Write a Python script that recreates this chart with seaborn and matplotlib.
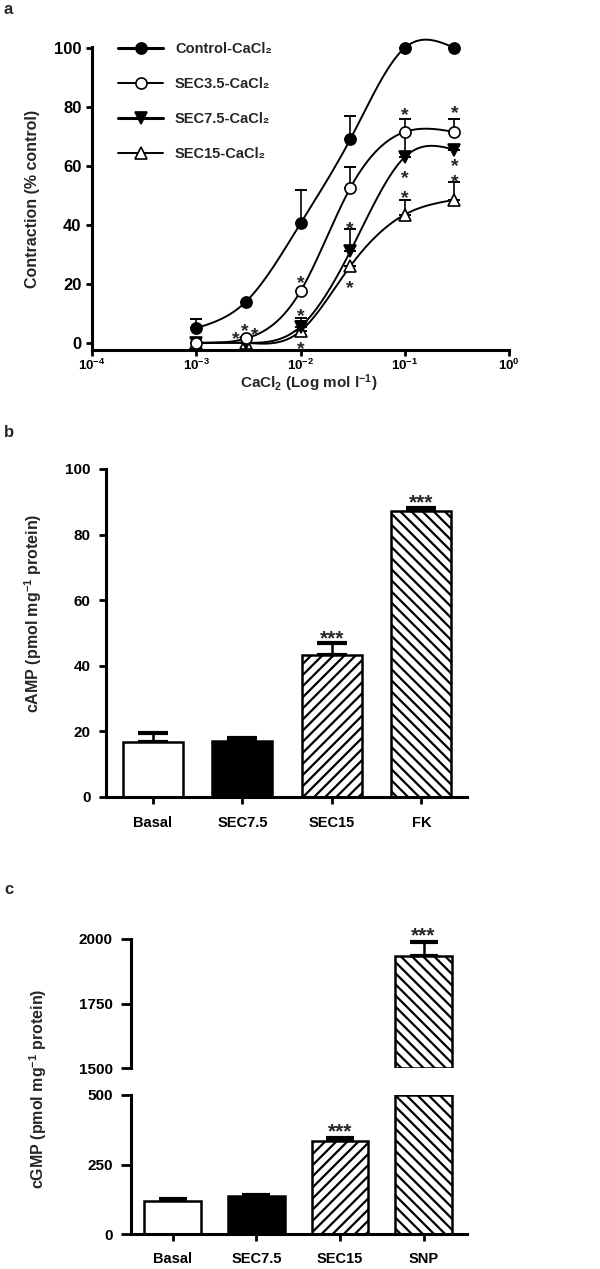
import numpy as np
import pandas as pd
import matplotlib
matplotlib.use("Agg")
import matplotlib.pyplot as plt
import seaborn as sns
from matplotlib.lines import Line2D

sns.set_theme(style="ticks")
plt.rcParams['font.family'] = ['Liberation Sans', 'DejaVu Sans']
plt.rcParams['font.weight'] = 'bold'
plt.rcParams['axes.labelweight'] = 'bold'
plt.rcParams['mathtext.fontset'] = 'custom'
plt.rcParams['mathtext.rm'] = 'Liberation Sans:bold'
plt.rcParams['mathtext.it'] = 'Liberation Sans:bold'
plt.rcParams['mathtext.bf'] = 'Liberation Sans:bold'
plt.rcParams['mathtext.default'] = 'rm'
plt.rcParams['hatch.linewidth'] = 1.6
plt.rcParams['hatch.color'] = 'black'

# ---- panel a data: contraction (% control) vs CaCl2 ----
conc = [1e-3, 3e-3, 1e-2, 3e-2, 1e-1, 3e-1]
ctrl_mean = [5, 14, 40.5, 69, 100, 100]
ctrl_sem = [3, 0, 11.5, 8, 0, 0]
sec35_mean = [0, 1.5, 17.5, 52.5, 71.5, 71.5]
sec35_sem = [0, 0, 0, 7, 4.5, 4.5]
sec75_mean = [0, 0, 5.5, 31, 63, 65.5]
sec75_sem = [0, 0, 3, 7.5, 8.5, 0]
sec15_mean = [0, 0, 4, 26, 43.5, 48.5]
sec15_sem = [0, 0, 3.5, 0, 5, 6]
series_names = ["Control-CaCl₂", "SEC3.5-CaCl₂", "SEC7.5-CaCl₂", "SEC15-CaCl₂"]
xtick_labels = [r"$10^{-4}$", r"$10^{-3}$", r"$10^{-2}$", r"$10^{-1}$", r"$10^{0}$"]

# significance stars (x, y) in panel a
star_x = [2.4e-3, 2.95e-3, 3.65e-3, 1e-2, 1e-2, 1e-2, 3e-2, 3e-2, 1e-1, 1e-1, 1e-1, 3e-1, 3e-1, 3e-1]
star_y = [3.4, 6.0, 4.7, 22.4, 11.2, 0.0, 40.6, 20.7, 79.3, 58.0, 51.0, 80.0, 62.0, 56.5]

# ---- panel b data: cAMP ----
camp_groups = ["Basal", "SEC7.5", "SEC15", "FK"]
camp_mean = [16.8, 17.2, 43.3, 87.3]
camp_sem = [2.7, 0.8, 3.7, 0.7]
camp_stars = ["", "", "***", "***"]
camp_star_y = [0, 0, 50, 91.5]

# ---- panel c data: cGMP ----
cgmp_groups = ["Basal", "SEC7.5", "SEC15", "SNP"]
cgmp_mean = [118, 137, 333, 1935]
cgmp_sem = [7, 5, 12, 55]
cgmp_stars = ["", "", "***", "***"]
cgmp_star_y = [0, 0, 388, 2035]

bar_colors = ["white", "black", "white", "white"]
bar_hatches = ["", "", "///", "\\\\\\"]

W, H = 600, 1269
fig = plt.figure(figsize=(W / 100, H / 100), dpi=100)


def rect(x0, y_top, x1, y_bot):
    return [x0 / W, 1 - y_bot / H, (x1 - x0) / W, (y_bot - y_top) / H]


def natural_spline(x, y, num=300):
    # smooth connecting line through the measured points (natural cubic spline)
    x = np.asarray(x, float)
    y = np.asarray(y, float)
    n = len(x)
    h = np.diff(x)
    A = np.zeros((n, n))
    r = np.zeros(n)
    A[0, 0] = A[-1, -1] = 1
    for i in range(1, n - 1):
        A[i, i - 1] = h[i - 1]
        A[i, i] = 2 * (h[i - 1] + h[i])
        A[i, i + 1] = h[i]
        r[i] = 6 * ((y[i + 1] - y[i]) / h[i] - (y[i] - y[i - 1]) / h[i - 1])
    M = np.linalg.solve(A, r)
    xs = np.linspace(x[0], x[-1], num)
    k = np.clip(np.searchsorted(x, xs) - 1, 0, n - 2)
    hk = h[k]
    ys = (M[k] * (x[k + 1] - xs) ** 3 / (6 * hk) + M[k + 1] * (xs - x[k]) ** 3 / (6 * hk)
          + (y[k] / hk - M[k] * hk / 6) * (x[k + 1] - xs)
          + (y[k + 1] / hk - M[k + 1] * hk / 6) * (xs - x[k]))
    return xs, ys


def style_axes(ax, size=10.5, length=5, pad=3.5):
    sns.despine(ax=ax)
    for s in ["left", "bottom"]:
        ax.spines[s].set_linewidth(2.2)
        ax.spines[s].set_color("black")
    ax.tick_params(axis="both", width=2, length=length, color="black", labelsize=size,
                   labelcolor="black", direction="out", pad=pad)


def stars(ax, x, y, s, size=14):
    ax.annotate(s, xy=(x, y), xytext=(0, -8), textcoords="offset points",
                ha="center", va="baseline", fontsize=size, fontweight="bold",
                annotation_clip=False, zorder=6)


# ================= panel a =================
ax = fig.add_axes(rect(92, 47, 509, 350))
log_c = np.log10(conc)
means = [ctrl_mean, sec35_mean, sec75_mean, sec15_mean]
sems = [ctrl_sem, sec35_sem, sec75_sem, sec15_sem]
markers = ["o", "o", "v", "^"]
faces = ["black", "white", "black", "white"]
leg_lw = [2.2, 1.4, 2.2, 1.4]
handles = []
for i in range(4):
    xs, ys = natural_spline(log_c, means[i])
    curve = pd.DataFrame({"x": 10 ** xs, "y": ys})
    sns.lineplot(data=curve, x="x", y="y", ax=ax, color="black", lw=1.4,
                 estimator=None, sort=False, zorder=2)
    ax.errorbar(conc, means[i], yerr=[np.zeros(6), sems[i]], fmt="none",
                ecolor="black", elinewidth=1.2, capsize=4.5, capthick=1.4,
                zorder=3, clip_on=False)
    ax.plot(conc, means[i], ls="none", marker=markers[i], ms=8, mfc=faces[i],
            mec="black", mew=1.2, zorder=4 + (3 - i) * 0.1, clip_on=False)
    handles.append(Line2D([], [], color="black", lw=leg_lw[i], marker=markers[i], ms=8,
                          mfc=faces[i], mec="black", mew=1.2))
for ln in ax.lines:
    ln.set_clip_on(False)
for sx, sy in zip(star_x, star_y):
    stars(ax, sx, sy, "*")

ax.set_xscale("log")
ax.set_xlim(1e-4, 1e0)
ax.set_ylim(-2.4, 100.3)
ax.set_xticks([1e-4, 1e-3, 1e-2, 1e-1, 1e0])
ax.xaxis.set_minor_locator(matplotlib.ticker.NullLocator())
ax.set_yticks([0, 20, 40, 60, 80, 100])
style_axes(ax, size=12, length=4.5, pad=3)
ax.set_xticklabels(xtick_labels, fontsize=9.5)
ax.tick_params(axis="x", pad=1)
ax.set_xlabel(r"CaCl$_2$ (Log mol l$^{-1}$)", fontsize=11)
ax.xaxis.set_label_coords(0.52, -0.075)
ax.set_ylabel("Contraction (% control)", fontsize=11.5, labelpad=10)
ax.legend(handles, series_names, loc="upper left", frameon=False,
          bbox_to_anchor=(118 / W, 1 - 42 / H), bbox_transform=fig.transFigure,
          fontsize=10.5, handlelength=3.1, handletextpad=0.8, labelspacing=1.45,
          borderpad=0, borderaxespad=0)

# ================= panel b =================
axb = fig.add_axes(rect(106, 469, 467, 797))
sns.barplot(x=camp_groups, y=camp_mean, hue=camp_groups, palette=bar_colors,
            legend=False, errorbar=None, width=0.67, edgecolor="black",
            linewidth=1.8, ax=axb, zorder=2)
for p, hch in zip(axb.patches, bar_hatches):
    p.set_hatch(hch)
axb.errorbar(range(4), camp_mean, yerr=[np.zeros(4), camp_sem], fmt="none",
             ecolor="black", elinewidth=1.8, capsize=11, capthick=3, zorder=1)
for i, (s, sy) in enumerate(zip(camp_stars, camp_star_y)):
    if s:
        stars(axb, i, sy, s, size=15)
axb.set_xlim(-0.525, 3.51)
axb.set_ylim(0, 100)
axb.set_yticks([0, 20, 40, 60, 80, 100])
style_axes(axb, size=11, length=5, pad=6)
axb.tick_params(axis="x", pad=9, labelsize=10.5)
axb.set_ylabel(r"cAMP (pmol mg$^{-1}$ protein)", fontsize=11.5)
axb.yaxis.set_label_coords(-0.172, 0.56)

# ================= panel c =================
axc = fig.add_axes(rect(131, 1095, 467, 1234))
axt = fig.add_axes(rect(131, 939, 467, 1068))
for a, lo, hi in [(axc, 0, 500), (axt, 1500, 2000)]:
    sns.barplot(x=cgmp_groups, y=cgmp_mean, hue=cgmp_groups, palette=bar_colors,
                legend=False, errorbar=None, width=0.68, edgecolor="black",
                linewidth=1.8, ax=a, zorder=2)
    for p, hch in zip(a.patches, bar_hatches):
        p.set_hatch(hch)
        top = p.get_height()
        if top > lo:
            p.set_y(lo)
            p.set_height(min(top, hi) - lo)
        else:
            p.set_visible(False)
    a.errorbar(range(4), cgmp_mean, yerr=[np.zeros(4), cgmp_sem], fmt="none",
               ecolor="black", elinewidth=1.8, capsize=10, capthick=3, zorder=1)
    for i, (s, sy) in enumerate(zip(cgmp_stars, cgmp_star_y)):
        if s and lo <= sy <= hi + 100:
            stars(a, i, sy, s, size=15)
    a.set_xlim(-0.5, 3.52)
    a.set_ylim(lo, hi)
    a.set_yticks([lo, (lo + hi) / 2, hi])
    a.set_yticklabels([f"{int(v)}" for v in [lo, (lo + hi) / 2, hi]])
    style_axes(a, size=11, length=7, pad=6)
axt.spines["bottom"].set_visible(False)
axt.tick_params(axis="x", bottom=False, labelbottom=False)
axt.set_xlabel("")
axc.tick_params(axis="x", length=5, pad=8, labelsize=10.5)
axc.set_ylabel(r"cGMP (pmol mg$^{-1}$ protein)", fontsize=11.5)
axc.yaxis.set_label_coords(-0.244, 1.043)

for lab, y in [("a", 10), ("b", 432), ("c", 890)]:
    fig.text(4 / W, 1 - y / H, lab, fontsize=12, fontweight="bold", va="center", ha="left")

fig.savefig("out.png", dpi=100)
